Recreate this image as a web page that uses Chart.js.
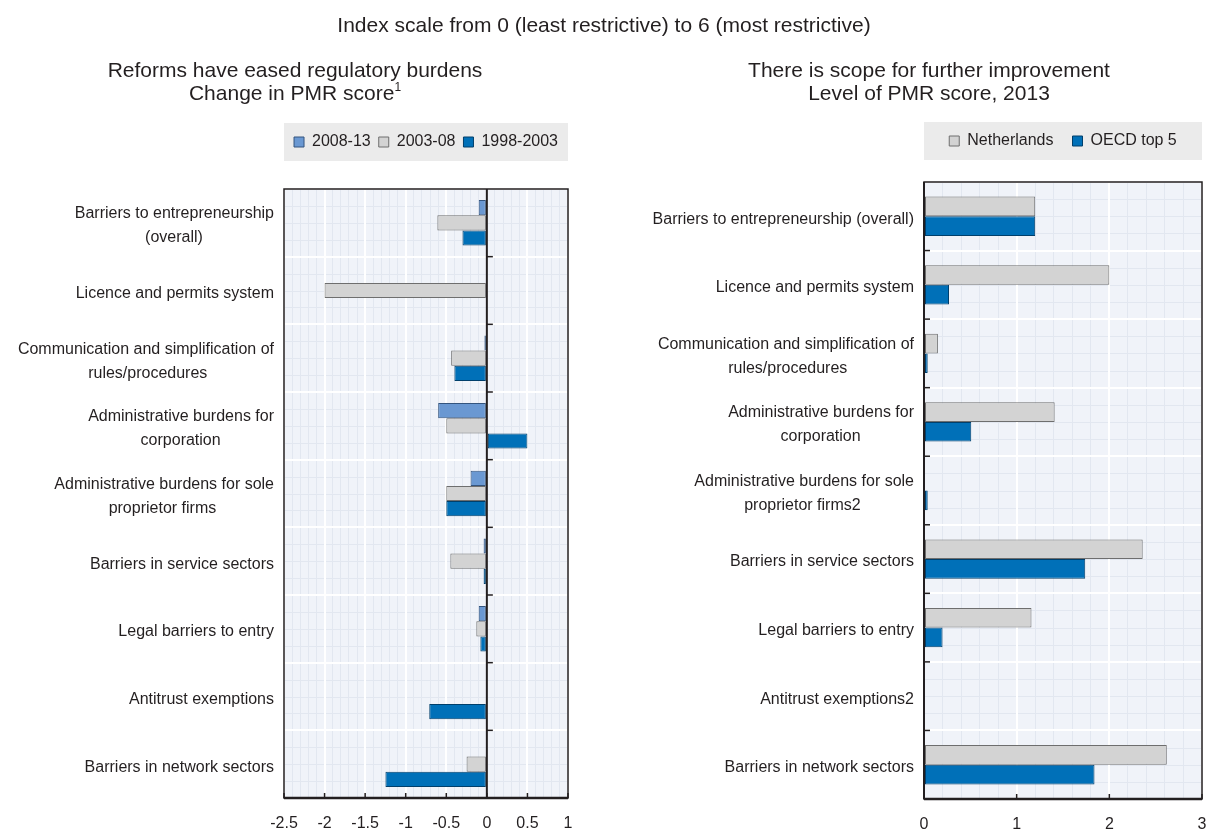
<!DOCTYPE html>
<html>
<head>
<meta charset="utf-8">
<script src="https://cdn.jsdelivr.net/npm/chart.js@4/dist/chart.umd.min.js"></script>
<style>
  body { margin: 0; width: 1208px; height: 832px; background: #fff; position: relative; overflow: hidden;
         font-family: "Liberation Sans", Arial, sans-serif; color: #231f20; }
  .txt { position: absolute; text-align: center; font-size: 21px; line-height: 23px; white-space: nowrap; }
  .txt sup { font-size: 12px; vertical-align: 9px; line-height: 0; }
  .pane { position: absolute; top: 0; width: 604px; height: 832px; }
</style>
</head>
<body>
<div class="pane" style="left:0"><canvas id="leftChart" width="604" height="832"></canvas></div>
<div class="pane" style="left:604px"><canvas id="rightChart" width="604" height="832"></canvas></div>

<div class="txt" style="left:0;width:1208px;top:13px">Index scale from 0 (least restrictive) to 6 (most restrictive)</div>
<div class="txt" style="left:45px;width:500px;top:58px">Reforms have eased regulatory burdens<br>Change in PMR score<sup>1</sup></div>
<div class="txt" style="left:679px;width:500px;top:58px">There is scope for further improvement<br>Level of PMR score, 2013</div>

<script>
// ---- data ----
const leftCategories = [
    ["Barriers to entrepreneurship", "(overall)"],
    "Licence and permits system",
    ["Communication and simplification of", "rules/procedures"],
    ["Administrative burdens for", "corporation"],
    ["Administrative burdens for sole", "proprietor firms"],
    "Barriers in service sectors",
    "Legal barriers to entry",
    "Antitrust exemptions",
    "Barriers in network sectors"
];
const change0813 = [-0.1, null, -0.03, -0.6, -0.2, -0.04, -0.1, null, null];
const change0308 = [-0.61, -2.0, -0.44, -0.5, -0.5, -0.45, -0.13, null, -0.25];
const change9803 = [-0.3, null, -0.4, 0.5, -0.5, -0.04, -0.08, -0.71, -1.25];
const leftTicks = { min: -2.5, max: 1, major: 0.5, minor: 0.1 };

const rightCategories = [
    "Barriers to entrepreneurship (overall)",
    "Licence and permits system",
    ["Communication and simplification of", "rules/procedures"],
    ["Administrative burdens for", "corporation"],
    ["Administrative burdens for sole", "proprietor firms2"],
    "Barriers in service sectors",
    "Legal barriers to entry",
    "Antitrust exemptions2",
    "Barriers in network sectors"
];
const netherlands = [1.2, 2.0, 0.15, 1.41, null, 2.36, 1.16, null, 2.62];
const oecdTop5 = [1.2, 0.27, 0.04, 0.51, 0.04, 1.74, 0.2, null, 1.84];
const rightTicks = { min: 0, max: 3, major: 1, minor: 0.2 };

// ---- styling ----
const FONT = '"Liberation Sans", Arial, sans-serif';
const INK = '#231f20';
const MINOR = '#e2e7f0';
Chart.defaults.font.family = FONT;
Chart.defaults.color = INK;

const lightBlue = { backgroundColor: '#6a98d2', borderColor: '#34557f' };
const grey = { backgroundColor: '#d3d3d3', borderColor: '#6e6e6e' };
const darkBlue = { backgroundColor: '#0070b8', borderColor: '#003f6b' };

// second line of a two-line label sits centred under the first one
const measure = document.createElement('canvas').getContext('2d');
measure.font = '16px ' + FONT;
function centerUnder(label) {
    if (!Array.isArray(label)) return label;
    const w0 = measure.measureText(label[0]).width;
    const sp = measure.measureText(' ').width;
    return label.map((line, i) => {
        if (i === 0) return line;
        const n = Math.round((w0 - measure.measureText(line).width) / 2 / sp);
        return line + ' '.repeat(Math.max(n, 0));
    });
}

// plot background, faint horizontal minor grid, legend panel
const panels = {
    id: 'panels',
    beforeDraw(chart) {
        const { ctx, chartArea: a, legend, scales: { y } } = chart;
        ctx.save();
        ctx.fillStyle = '#ebebeb';
        ctx.fillRect(a.left, legend.bottom - 37, a.width, 38);
        ctx.fillStyle = '#f0f3f9';
        ctx.fillRect(a.left, a.top, a.width, a.height);
        ctx.strokeStyle = MINOR;
        ctx.lineWidth = 1;
        for (let i = 0; i < y.ticks.length; i++) {
            for (let k = 1; k < 4; k++) {
                const py = Math.round(y.getPixelForValue(i - 0.5 + k / 4)) + 0.5;
                ctx.beginPath(); ctx.moveTo(a.left, py); ctx.lineTo(a.right, py); ctx.stroke();
            }
        }
        ctx.restore();
    }
};

// frame, zero line and little tick marks
const frame = {
    id: 'frame',
    afterDatasetsDraw(chart) {
        const { ctx, chartArea: a, scales: { x, y } } = chart;
        const seg = (x1, y1, x2, y2) => { ctx.beginPath(); ctx.moveTo(x1, y1); ctx.lineTo(x2, y2); ctx.stroke(); };
        ctx.save();
        ctx.strokeStyle = INK;
        const x0 = x.getPixelForValue(0);
        ctx.lineWidth = 2;
        seg(x0, a.top, x0, a.bottom);
        ctx.lineWidth = 1.5;
        for (let i = 1; i < y.ticks.length; i++) {
            const py = y.getPixelForValue(i - 0.5);
            seg(x0, py, x0 + 6, py);
        }
        x.ticks.forEach(t => {
            if (t.major) { const px = x.getPixelForValue(t.value); seg(px, a.bottom, px, a.bottom - 5); }
        });
        ctx.lineWidth = 1.5;
        ctx.strokeRect(a.left, a.top, a.width, a.height);
        ctx.lineWidth = 2.5;
        seg(a.left, a.bottom, a.right, a.bottom);
        ctx.restore();
    }
};

function isMajor(v, step) {
    return Math.abs(v / step - Math.round(v / step)) < 1e-6;
}

function buildChart(id, cfg) {
    return new Chart(document.getElementById(id), {
        type: 'bar',
        data: { labels: cfg.categories, datasets: cfg.datasets },
        options: {
            responsive: false,
            animation: false,
            indexAxis: 'y',
            layout: { padding: { top: cfg.top, right: cfg.right, left: 0, bottom: 0 } },
            datasets: { bar: { categoryPercentage: cfg.catPct, barPercentage: 1, borderWidth: 1, borderSkipped: false } },
            scales: {
                x: {
                    min: cfg.ticks.min,
                    max: cfg.ticks.max,
                    afterFit(scale) { scale.height = 33; scale.paddingLeft = 0; scale.paddingRight = 0; },
                    afterBuildTicks(scale) {
                        scale.ticks.forEach(t => { t.major = isMajor(t.value, cfg.ticks.major); });
                    },
                    ticks: {
                        stepSize: cfg.ticks.minor,
                        autoSkip: false,
                        maxRotation: 0,
                        padding: 16,
                        font: { size: 16 },
                        color: INK,
                        callback: v => isMajor(v, cfg.ticks.major) ? String(Math.round(v * 10) / 10) : ''
                    },
                    grid: {
                        drawTicks: false,
                        color: c => isMajor(c.tick.value, cfg.ticks.major) ? '#ffffff' : MINOR,
                        lineWidth: c => isMajor(c.tick.value, cfg.ticks.major) ? 2 : 1
                    },
                    border: { display: false }
                },
                y: {
                    afterFit(scale) { scale.width = cfg.axisWidth; },
                    ticks: {
                        padding: 10,
                        labelOffset: 3,
                        font: { size: 16, lineHeight: 1.5 },
                        color: INK,
                        callback: (v, i) => centerUnder(cfg.categories[i])
                    },
                    grid: { drawTicks: false, color: '#ffffff', lineWidth: 2, offset: true },
                    border: { display: false }
                }
            },
            plugins: {
                legend: {
                    position: 'top',
                    fullSize: false,
                    labels: {
                        boxWidth: 10,
                        boxHeight: 10,
                        padding: cfg.legendPad,
                        font: { size: 16 },
                        color: INK
                    }
                },
                // empty title used only as a spacer under the legend
                title: { display: true, text: '', weight: 500, font: { size: 1, lineHeight: 1 }, padding: { top: 0, bottom: cfg.gap } },
                tooltip: { enabled: false }
            }
        },
        plugins: [panels, frame]
    });
}

buildChart('leftChart', {
    categories: leftCategories,
    datasets: [
        { label: '2008-13', data: change0813, ...lightBlue },
        { label: '2003-08', data: change0308, ...grey },
        { label: '1998-2003', data: change9803, ...darkBlue }
    ],
    ticks: leftTicks,
    top: 126, right: 36, axisWidth: 284, legendPad: 8, gap: 28, catPct: 0.673
});

buildChart('rightChart', {
    categories: rightCategories,
    datasets: [
        { label: 'Netherlands', data: netherlands, ...grey },
        { label: 'OECD top 5', data: oecdTop5, ...darkBlue }
    ],
    ticks: rightTicks,
    top: 114, right: 6, axisWidth: 320, legendPad: 19, gap: 22, catPct: 0.574
});
</script>
</body>
</html>
